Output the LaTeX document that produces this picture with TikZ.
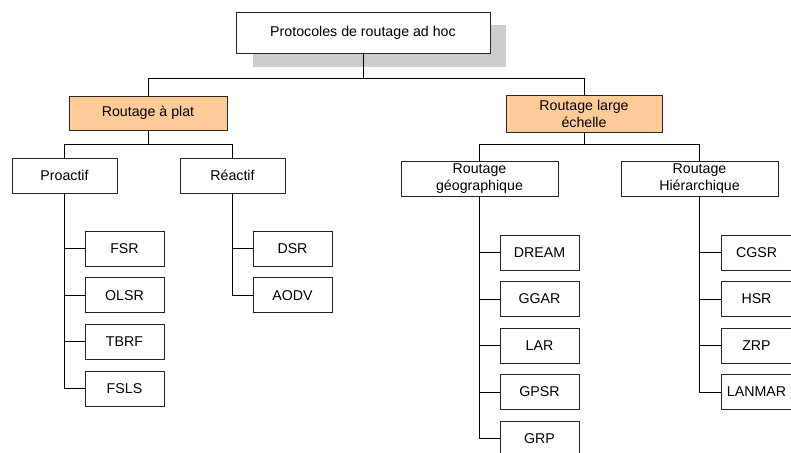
\documentclass[tikz,border=0pt]{standalone}
\usepackage{fontspec}
\setmainfont{Liberation Sans}
\definecolor{saumon}{RGB}{255,204,153}
\definecolor{ombre}{RGB}{204,204,204}

\begin{document}
\begin{tikzpicture} [x = 1pt, y = -1pt,
  boite/.style = {draw = black!85, line width = 0.9pt, fill = white, minimum height = 35pt, inner sep = 0pt, align = center, font = \fontsize{14.2}{16.5}\selectfont},
  feuille/.style = {boite, minimum width = 79pt},
  lien/.style = {line width = 0.9pt, black}]
\useasboundingbox (0,0) rectangle (791,452);
\fill [ombre] (253,25) rectangle (506,67);
\node [boite, minimum width = 254pt, minimum height = 41pt] (racine) at (363,32.5) {Protocoles de routage ad hoc};
\node [boite, fill = saumon, minimum width = 158pt, minimum height = 34pt] (plat) at (148,113) {Routage à plat};
\node [boite, fill = saumon, minimum width = 156pt, minimum height = 37pt] (large) at (584,114) {Routage large\\échelle};
\coordinate (bus1) at (363,78);
\draw [lien] (racine.south) -- (bus1);
\draw [lien] (bus1) -| (plat.north);
\draw [lien] (bus1) -| (large.north);
\node [boite, minimum width = 105pt] (proactif) at (64.5,175.5) {Proactif};
\node [boite, minimum width = 105pt] (reactif) at (232.5,175.5) {Réactif};
\node [boite, minimum width = 157pt] (geo) at (479.5,178.5) {Routage\\géographique};
\node [boite, minimum width = 157pt] (hier) at (699.5,178.5) {Routage\\Hiérarchique};
\coordinate (bus2) at (148,144);
\coordinate (bus3) at (584,144);
\draw [lien] (plat.south) -- (bus2);
\draw [lien] (bus2) -| (proactif.north);
\draw [lien] (bus2) -| (reactif.north);
\draw [lien] (large.south) -- (bus3);
\draw [lien] (bus3) -| (geo.north);
\draw [lien] (bus3) -| (hier.north);
% feuilles
\foreach \nom [count = \i from 0] in {FSR, OLSR, TBRF, FSLS} {
  \node [feuille] (pro\i) at (124.5, 248.5 + 46.7*\i) {\nom};
  \draw [lien] (proactif.south) |- (pro\i.west);
}
\foreach \nom [count = \i from 0] in {DSR, AODV} {
  \node [feuille] (rea\i) at (292.5, 248.5 + 46.7*\i) {\nom};
  \draw [lien] (reactif.south) |- (rea\i.west);
}
\foreach \nom [count = \i from 0] in {DREAM, GGAR, LAR, GPSR, GRP} {
  \node [feuille] (geo\i) at (539.5, 252.5 + 46.5*\i) {\nom};
  \draw [lien] (geo.south) |- (geo\i.west);
}
\foreach \nom [count = \i from 0] in {CGSR, HSR, ZRP, LANMAR} {
  \node [feuille, minimum width = 71pt] (hie\i) at (756.5, 252.5 + 46.5*\i) {\nom};
  \draw [lien] (hier.south) |- (hie\i.west);
}
\end{tikzpicture}
\end{document}
